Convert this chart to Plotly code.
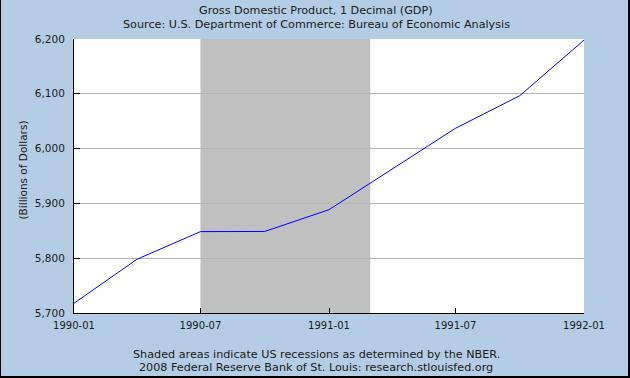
import plotly.graph_objects as go

# ---- data ----
dates = ["1990-01-01", "1990-04-01", "1990-07-01", "1990-10-01", "1991-01-01",
         "1991-04-01", "1991-07-01", "1991-10-01", "1992-01-01"]
gdp = [5717.7, 5798.0, 5848.5, 5848.8, 5888.5, 5962.0, 6037.0, 6096.5, 6198.0]
recession_start = "1990-07-01"
recession_end = "1991-03-01"
y_ticks = [5700, 5800, 5900, 6000, 6100, 6200]
x_ticks = ["1990-01-01", "1990-07-01", "1991-01-01", "1991-07-01", "1992-01-01"]
x_ticktext = ["1990-01", "1990-07", "1991-01", "1991-07", "1992-01"]

title1 = "Gross Domestic Product, 1 Decimal (GDP)"
title2 = "Source: U.S. Department of Commerce: Bureau of Economic Analysis"
foot1 = "Shaded areas indicate US recessions as determined by the NBER."
foot2 = "2008 Federal Reserve Bank of St. Louis: research.stlouisfed.org"
ytitle = "(Billions of Dollars)"

W, H = 630, 378
L, R, T, B = 74, 46, 39, 65
PW, PH = W - L - R, H - T - B
BG = "#b4cde4"
FONT = "DejaVu Sans"
TXT = "#1a1a1a"
TS = 11.2


def px_x(px):
    return (px - L) / PW


def px_y(py):
    return (H - B - py) / PH


fig = go.Figure()
fig.add_trace(go.Scatter(x=dates, y=gdp, mode="lines",
                         line=dict(color="#0000ff", width=1), hoverinfo="skip"))

shapes = [
    dict(type="rect", xref="x", yref="paper", x0=recession_start, x1=recession_end,
         y0=0, y1=1, fillcolor="#c0c0c0", line=dict(width=0), layer="between"),
    # outer frame (right, bottom, left)
    dict(type="line", xref="paper", yref="paper", x0=px_x(629), x1=px_x(629),
         y0=px_y(0), y1=px_y(378), line=dict(color="#000000", width=2)),
    dict(type="line", xref="paper", yref="paper", x0=px_x(0), x1=px_x(630),
         y0=px_y(377), y1=px_y(377), line=dict(color="#000000", width=2)),
    dict(type="line", xref="paper", yref="paper", x0=px_x(0.5), x1=px_x(0.5),
         y0=px_y(0), y1=px_y(378), line=dict(color="#000000", width=1)),
]


def ann(text, x, y, size=TS, angle=0):
    return dict(text=text, x=px_x(x), y=px_y(y), xref="paper", yref="paper",
                showarrow=False, xanchor="center", yanchor="middle", textangle=angle,
                font=dict(family=FONT, size=size, color=TXT))


annotations = [
    ann(title1, 316, 11),
    ann(title2, 316, 24),
    ann(foot1, 316, 354),
    ann(foot2, 316, 367.5),
    ann(ytitle, 22.5, 170, size=10.5, angle=-90),
]

fig.update_layout(
    width=W, height=H,
    margin=dict(l=L, r=R, t=T, b=B, pad=0),
    paper_bgcolor=BG, plot_bgcolor="#ffffff",
    showlegend=False,
    shapes=shapes, annotations=annotations,
    font=dict(family=FONT, size=10.5, color=TXT),
)
fig.update_xaxes(
    type="date", range=[dates[0], dates[-1]],
    tickvals=x_ticks, ticktext=x_ticktext,
    showgrid=False, zeroline=False,
    showline=True, linecolor="#000000", linewidth=1,
    ticks="inside", ticklen=5, tickcolor="#000000", tickwidth=1,
    tickfont=dict(family=FONT, size=10, color=TXT),
    ticklabelstandoff=3,
    fixedrange=True,
)
fig.update_yaxes(
    range=[5700, 6200], tickvals=y_ticks, tickformat=",",
    showgrid=True, gridcolor="#b4b4b4", gridwidth=1, zeroline=False,
    showline=True, linecolor="#000000", linewidth=1,
    ticks="inside", ticklen=6, tickcolor="#000000", tickwidth=1,
    tickfont=dict(family=FONT, size=10.5, color=TXT),
    ticklabelstandoff=6,
    fixedrange=True,
)

fig.write_html(
    "out.html",
    config=dict(displayModeBar=False),
    post_script="document.body.style.margin='0';document.body.style.overflow='hidden';",
)
